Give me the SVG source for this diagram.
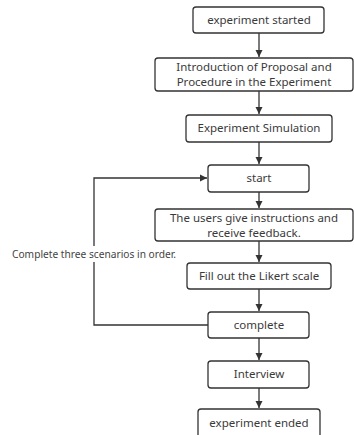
<svg xmlns="http://www.w3.org/2000/svg" width="354" height="435" viewBox="0 0 354 435">
<style>
.n{fill:#fff;stroke:#333;stroke-width:1.3}
.t{font-family:"Noto Sans","Open Sans",sans-serif;font-size:11.5px;fill:#3a3a3a;text-anchor:middle}
.c{fill:none;stroke:#333;stroke-width:1.3}
.l{font-family:"Noto Sans","Open Sans",sans-serif;font-size:10.2px;fill:#444}
</style>
<defs>
<marker id="a" markerWidth="8" markerHeight="8" refX="7" refY="4" orient="auto" markerUnits="userSpaceOnUse">
<path d="M0,0.5 L7,4 L0,7.5 Z" fill="#333"/>
</marker>
</defs>
<rect width="354" height="435" fill="#fff"/>
<g id="connectors">
<line class="c" x1="259" y1="33" x2="259" y2="57" marker-end="url(#a)"/>
<line class="c" x1="259" y1="91" x2="259" y2="114" marker-end="url(#a)"/>
<line class="c" x1="259" y1="142" x2="259" y2="164" marker-end="url(#a)"/>
<line class="c" x1="259" y1="192" x2="259" y2="208" marker-end="url(#a)"/>
<line class="c" x1="259" y1="241" x2="259" y2="262" marker-end="url(#a)"/>
<line class="c" x1="259" y1="289" x2="259" y2="311" marker-end="url(#a)"/>
<line class="c" x1="259" y1="338" x2="259" y2="360" marker-end="url(#a)"/>
<line class="c" x1="259" y1="388" x2="259" y2="408" marker-end="url(#a)"/>
<polyline class="c" points="208,325 94,325 94,178 207,178" marker-end="url(#a)"/>
<rect x="10" y="246" width="170" height="16" fill="#fff"/>
<text class="l" x="12" y="258">Complete three scenarios in order.</text>
</g>
<g id="n1"><rect class="n" x="193" y="7" width="131" height="26" rx="3"/><text class="t" x="259" y="24">experiment started</text></g>
<g id="n2"><rect class="n" x="155" y="58" width="198" height="33" rx="3"/><text class="t" x="254" y="71">Introduction of Proposal and</text><text class="t" x="254" y="86">Procedure in the Experiment</text></g>
<g id="n3"><rect class="n" x="186" y="115" width="146" height="27" rx="3"/><text class="t" x="259" y="132">Experiment Simulation</text></g>
<g id="n4"><rect class="n" x="208" y="165" width="101" height="27" rx="3"/><text class="t" x="259" y="182">start</text></g>
<g id="n5"><rect class="n" x="155" y="209" width="198" height="32" rx="3"/><text class="t" x="254" y="222">The users give instructions and</text><text class="t" x="254" y="237">receive feedback.</text></g>
<g id="n6"><rect class="n" x="187" y="263" width="144" height="26" rx="3"/><text class="t" x="259" y="280">Fill out the Likert scale</text></g>
<g id="n7"><rect class="n" x="208" y="312" width="101" height="26" rx="3"/><text class="t" x="259" y="329">complete</text></g>
<g id="n8"><rect class="n" x="208" y="361" width="101" height="27" rx="3"/><text class="t" x="259" y="378">Interview</text></g>
<g id="n9"><rect class="n" x="198" y="409" width="122" height="30" rx="3"/><text class="t" x="259" y="427">experiment ended</text></g>
</svg>
